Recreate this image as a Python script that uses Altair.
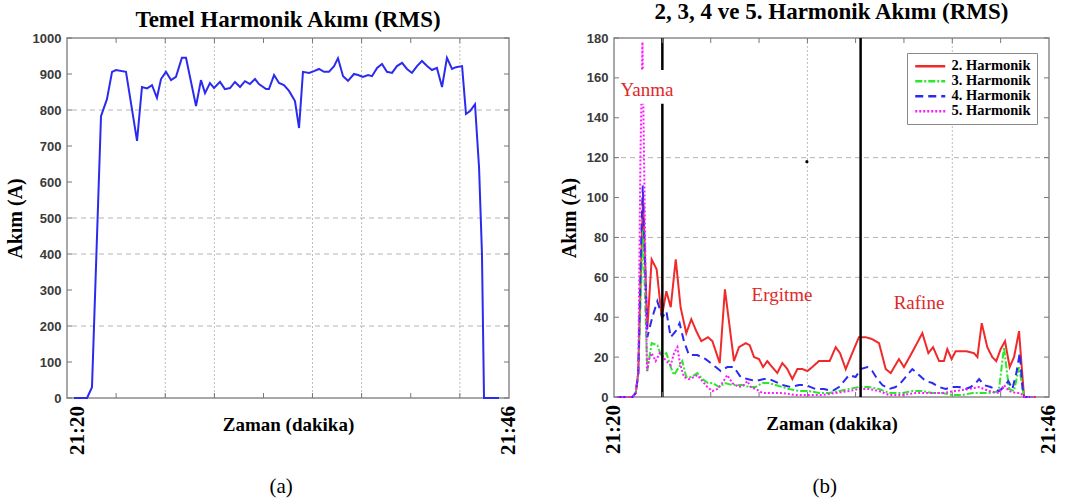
import altair as alt
import pandas as pd

# ---------------- data (minutes after 21:20, amperes) ----------------
fundamental = [(0.41, 0), (1.18, 0), (1.47, 30), (2.00, 783), (2.35, 830), (2.65, 906), (2.88, 911),
               (3.47, 906), (4.12, 714), (4.41, 864), (4.71, 860), (5.00, 869), (5.29, 834), (5.53, 886),
               (5.82, 906), (6.12, 883), (6.41, 892), (6.76, 945), (7.00, 945), (7.59, 811), (7.88, 883),
               (8.12, 847), (8.41, 875), (8.65, 861), (9.00, 878), (9.29, 858), (9.59, 861), (9.88, 878),
               (10.18, 864), (10.47, 880), (10.76, 872), (11.06, 886), (11.29, 872), (11.71, 858),
               (11.88, 858), (12.18, 897), (12.47, 875), (12.76, 869), (13.06, 853), (13.41, 825),
               (13.65, 750), (13.88, 906), (14.24, 903), (14.53, 908), (14.82, 914), (15.12, 906),
               (15.41, 906), (15.71, 922), (15.94, 944), (16.24, 894), (16.53, 881), (16.88, 900),
               (17.12, 897), (17.41, 892), (17.71, 897), (17.94, 894), (18.24, 917), (18.53, 928),
               (18.82, 906), (19.12, 903), (19.41, 922), (19.71, 931), (20.00, 914), (20.29, 903),
               (20.59, 922), (20.88, 936), (21.18, 922), (21.47, 911), (21.76, 917), (22.06, 864),
               (22.35, 945), (22.65, 914), (22.88, 919), (23.24, 922), (23.47, 789), (23.71, 797),
               (24.00, 816), (24.24, 639), (24.41, 400), (24.53, 0), (25.41, 0)]

harm2 = [(0.20, 0), (0.50, 0), (0.80, 0), (1.10, 0), (1.30, 2), (1.45, 12), (1.60, 60), (1.73, 100),
         (1.99, 34), (2.25, 69), (2.55, 64), (2.85, 40), (3.13, 53), (3.39, 45), (3.69, 69), (3.98, 45),
         (4.32, 32), (4.62, 39), (4.92, 33), (5.22, 28), (5.62, 30), (5.88, 28), (6.32, 17), (6.63, 54),
         (7.17, 18), (7.47, 25), (7.87, 27), (8.11, 26), (8.37, 20), (8.67, 19), (8.91, 15), (9.16, 18),
         (9.76, 12), (10.06, 17), (10.36, 14), (10.66, 9), (10.96, 14), (11.26, 14), (11.56, 13),
         (11.85, 15), (12.25, 18), (12.89, 18), (13.25, 25), (13.51, 22), (13.85, 14), (14.24, 22),
         (14.64, 30), (15.04, 30), (15.44, 29), (15.84, 27), (16.24, 14), (16.54, 12), (17.03, 19),
         (17.33, 15), (17.73, 21), (18.43, 32), (18.79, 22), (19.07, 25), (19.43, 18), (19.72, 18),
         (19.92, 24), (20.18, 19), (20.42, 23), (21.02, 23), (21.52, 22), (21.72, 20), (21.98, 37),
         (22.31, 25), (22.61, 20), (22.85, 18), (23.11, 24), (23.37, 28), (23.65, 15), (23.91, 20),
         (24.21, 33), (24.37, 15), (24.51, 0), (25.20, 0)]

harm3 = [(0.20, 0), (0.50, 0), (0.80, 0), (1.10, 0), (1.30, 2), (1.45, 12), (1.60, 50), (1.73, 84),
         (1.99, 13), (2.25, 27), (2.59, 26), (2.85, 20), (3.13, 22), (3.39, 15), (3.59, 11), (3.88, 15),
         (4.08, 18), (4.32, 10), (4.62, 10), (4.98, 12), (5.28, 9), (5.62, 7), (5.88, 7), (6.28, 5),
         (6.63, 7), (7.07, 6), (7.67, 6), (8.07, 5), (8.47, 5), (8.87, 7), (9.26, 7), (9.66, 6),
         (10.46, 4), (11.06, 3), (11.66, 3), (12.25, 2), (12.85, 2), (13.45, 3), (14.05, 4), (14.64, 5),
         (15.24, 5), (15.84, 4), (16.44, 2), (17.23, 2), (17.83, 3), (18.43, 3), (19.03, 2), (19.62, 2),
         (20.22, 1), (20.82, 1), (21.42, 2), (22.01, 2), (22.61, 2), (23.00, 3), (23.31, 25), (23.61, 4),
         (23.91, 3), (24.21, 15), (24.51, 0), (25.20, 0)]

harm4 = [(0.20, 0), (0.50, 0), (0.80, 0), (1.10, 0), (1.30, 2), (1.45, 12), (1.60, 70), (1.72, 106),
         (1.99, 30), (2.29, 40), (2.59, 48), (2.89, 40), (3.13, 43), (3.39, 30), (3.69, 33), (3.92, 37),
         (4.18, 28), (4.48, 21), (4.98, 21), (5.48, 19), (5.78, 17), (6.08, 15), (6.38, 13), (6.77, 15),
         (7.17, 15), (7.57, 10), (7.97, 9), (8.47, 8), (8.97, 9), (9.26, 9), (9.56, 8), (10.06, 6),
         (10.56, 5), (11.06, 6), (11.46, 6), (12.05, 4), (12.55, 4), (13.05, 3), (13.45, 5), (13.75, 8),
         (14.05, 11), (14.44, 10), (14.74, 14), (15.14, 15), (15.44, 13), (15.74, 9), (16.04, 6),
         (16.44, 4), (16.83, 5), (17.13, 7), (17.43, 10), (17.83, 14), (18.23, 11), (18.63, 8),
         (19.03, 7), (19.43, 5), (19.82, 4), (20.22, 5), (20.62, 5), (21.02, 4), (21.32, 5), (21.62, 7),
         (21.82, 9), (22.11, 6), (22.51, 5), (23.01, 3), (23.31, 5), (23.57, 8), (23.81, 4), (24.05, 12),
         (24.25, 22), (24.41, 5), (24.51, 0), (25.20, 0)]

harm5 = [(0.20, 0), (0.50, 0), (0.80, 0), (1.10, 0), (1.30, 2), (1.45, 12), (1.58, 120), (1.70, 178),
         (1.97, 13), (2.10, 19), (2.25, 22), (2.49, 18), (2.73, 22), (2.93, 20), (3.13, 18), (3.39, 16),
         (3.59, 22), (3.79, 25), (3.94, 17), (4.18, 10), (4.48, 9), (4.78, 10), (4.98, 11), (5.28, 8),
         (5.58, 5), (5.88, 3), (6.18, 4), (6.47, 7), (6.77, 11), (7.07, 7), (7.47, 5), (7.77, 6),
         (7.97, 8), (8.17, 5), (8.47, 4), (8.87, 2), (9.26, 2), (10.06, 2), (10.86, 1), (11.66, 1),
         (12.45, 1), (13.25, 2), (14.05, 3), (14.64, 4), (15.24, 4), (15.84, 3), (16.44, 1), (17.23, 1),
         (18.03, 2), (18.83, 2), (19.62, 2), (20.42, 3), (21.22, 4), (21.82, 5), (22.41, 3), (23.01, 2),
         (23.31, 6), (23.61, 3), (24.01, 2), (24.31, 2), (24.51, 0), (25.20, 0)]

series_names = ["2. Harmonik", "3. Harmonik", "4. Harmonik", "5. Harmonik"]
series_colors = ["#f02a2a", "#2ee62e", "#2a2af0", "#ff1aff"]
series_dashes = [[1, 0], [7, 2, 2, 2], [8, 5], [2, 2]]

phase_lines = [2.89, 14.74]                      # black phase boundaries (minutes)
phase_labels = ["Yanma", "Ergitme", "Rafine"]
phase_label_t = [1.97, 10.04, 18.23]
phase_label_a = [154, 51, 47]
yanma_box = {"t": 0.30, "t2": 3.65, "a": 147, "a2": 164}
stray_dot = [(11.53, 118)]

time_labels = ["21:20", "21:46"]
time_label_t = [0, 26]
x_ticks = [2.89, 5.78, 8.67, 11.56, 14.44, 17.33, 20.22, 23.11]
left_y_ticks = list(range(0, 1001, 100))
right_y_ticks = list(range(0, 181, 20))
left_hgrid = [200, 400, 500, 800]
left_vgrid = [5.78, 8.67, 14.44, 17.33, 23.11]
right_hgrid = [60, 80, 120]
right_vgrid = [11.56, 20.22]

SERIF = "Liberation Serif"
SANS = "Liberation Sans"
W1, H1 = 442, 360
W2, H2 = 435, 359
LEFT_ORIGIN = (68, 38)          # where the left plot area lands (for the shared legend)
RIGHT_TOP = 38
CAPTION_Y = 487


def yaxis(values):
    return alt.Axis(title="Akım (A)", values=values, format="d", labelOverlap=False,
                    grid=False, domain=False, ticks=False,
                    labelFont=SANS, labelFontWeight="bold", labelFontSize=13, labelColor="#3a3a3a",
                    labelPadding=6, titleFont=SERIF, titleFontWeight="bold", titleFontSize=20,
                    titleColor="black", titlePadding=7)


def xaxis():
    return alt.Axis(title="Zaman (dakika)", labels=False, ticks=False, domain=False, grid=False,
                    titleFont=SERIF, titleFontWeight="bold", titleFontSize=19, titleColor="black",
                    titleY=26, titleBaseline="middle")


def panel_encoders(xs, ys, yvals):
    xa, ya = xaxis(), yaxis(yvals)
    X = lambda f: alt.X(f, scale=xs, axis=xa)
    Y = lambda f: alt.Y(f, scale=ys, axis=ya)
    return X, Y


def decorations(X, Y, W, H, top, hgrid, vgrid, yticks, first_baseline, caption):
    hg = alt.Chart(pd.DataFrame({"a": hgrid})).mark_rule(
        color="#b4b4b4", strokeDash=[5, 4], strokeWidth=1).encode(y=Y("a:Q"))
    vg = alt.Chart(pd.DataFrame({"t": vgrid})).mark_rule(
        color="#bdbdbd", strokeDash=[2, 2], strokeWidth=1).encode(x=X("t:Q"))
    ydf = pd.DataFrame({"a": yticks})
    ytl = alt.Chart(ydf).mark_rule(color="#777", strokeWidth=1).encode(
        y=Y("a:Q"), x=alt.value(0), x2=alt.value(5))
    ytr = alt.Chart(ydf).mark_rule(color="#777", strokeWidth=1).encode(
        y=Y("a:Q"), x=alt.value(W - 5), x2=alt.value(W))
    xdf = pd.DataFrame({"t": x_ticks})
    xtb = alt.Chart(xdf).mark_rule(color="#777", strokeWidth=1).encode(
        x=X("t:Q"), y=alt.value(H - 5), y2=alt.value(H))
    xtt = alt.Chart(xdf).mark_rule(color="#777", strokeWidth=1).encode(
        x=X("t:Q"), y=alt.value(0), y2=alt.value(5))
    tl = pd.DataFrame({"t": time_label_t, "label": time_labels})
    lab0 = alt.Chart(tl.iloc[:1]).mark_text(
        font=SERIF, fontWeight="bold", fontSize=21, angle=270, align="right",
        baseline=first_baseline, color="black").encode(
        x=X("t:Q"), y=alt.value(H + 8), text="label:N")
    lab1 = alt.Chart(tl.iloc[1:]).mark_text(
        font=SERIF, fontWeight="bold", fontSize=21, angle=270, align="right",
        baseline="middle", color="black").encode(
        x=X("t:Q"), y=alt.value(H + 8), text="label:N")
    cap = alt.Chart(pd.DataFrame({"t": [12.6], "label": [caption]})).mark_text(
        font=SERIF, fontSize=21, color="black", baseline="middle").encode(
        x=X("t:Q"), y=alt.value(CAPTION_Y - top), text="label:N")
    return [hg, vg, ytl, ytr, xtb, xtt, lab0, lab1, cap]


# ---------------- left panel ----------------
xs1 = alt.Scale(domain=[0, 26], nice=False, zero=False)
ys1 = alt.Scale(domain=[0, 1000], nice=False)
X1, Y1 = panel_encoders(xs1, ys1, left_y_ticks)
fund_df = pd.DataFrame(fundamental, columns=["t", "a"])

fund_line = alt.Chart(fund_df).mark_line(color="#2b2bf0", strokeWidth=2).encode(
    x=X1("t:Q"), y=Y1("a:Q"))
dec1 = decorations(X1, Y1, W1, H1, LEFT_ORIGIN[1], left_hgrid, left_vgrid, left_y_ticks, "top", "(a)")
left = alt.layer(*dec1[:2], fund_line, *dec1[2:]).properties(
    width=W1, height=H1, title=alt.Title("Temel Harmonik Akımı (RMS)", offset=0))

# ---------------- right panel ----------------
xs2 = alt.Scale(domain=[0, 26], nice=False, zero=False)
ys2 = alt.Scale(domain=[0, 180], nice=False)
X2, Y2 = panel_encoders(xs2, ys2, right_y_ticks)
rows = []
for name, pts in zip(series_names, [harm2, harm3, harm4, harm5]):
    for t, a in pts:
        rows.append({"t": t, "a": a, "series": name})
harm_df = pd.DataFrame(rows)

legend_xy = dict(legendX=908 - LEFT_ORIGIN[0], legendY=53 - LEFT_ORIGIN[1])
harm_lines = alt.Chart(harm_df).mark_line(strokeWidth=2).encode(
    x=X2("t:Q"), y=Y2("a:Q"),
    color=alt.Color("series:N", scale=alt.Scale(domain=series_names, range=series_colors),
                    legend=alt.Legend(title=None, orient="none", **legend_xy,
                                      strokeColor="#8a8a8a", fillColor="white", padding=6,
                                      labelFont=SERIF, labelFontWeight="bold", labelFontSize=14.5,
                                      labelColor="black", symbolType="M-1,0H5", symbolSize=100,
                                      symbolStrokeWidth=2.5, rowPadding=0, labelOffset=24)),
    strokeDash=alt.StrokeDash("series:N", scale=alt.Scale(domain=series_names, range=series_dashes),
                              legend=alt.Legend(title=None, orient="none", **legend_xy)),
    detail="series:N",
)

phase_rules = alt.Chart(pd.DataFrame({"t": phase_lines})).mark_rule(
    color="black", strokeWidth=2.5).encode(x=X2("t:Q"))
box = alt.Chart(pd.DataFrame([yanma_box])).mark_rect(color="white").encode(
    x=X2("t:Q"), x2="t2:Q", y=Y2("a:Q"), y2="a2:Q")
plabels = alt.Chart(pd.DataFrame({"t": phase_label_t, "a": phase_label_a, "label": phase_labels})).mark_text(
    font=SERIF, fontSize=19, color="#e02828", baseline="middle").encode(
    x=X2("t:Q"), y=Y2("a:Q"), text="label:N")
dot = alt.Chart(pd.DataFrame(stray_dot, columns=["t", "a"])).mark_circle(
    color="black", size=10, opacity=1).encode(x=X2("t:Q"), y=Y2("a:Q"))

dec2 = decorations(X2, Y2, W2, H2, RIGHT_TOP, right_hgrid, right_vgrid, right_y_ticks, "middle", "(b)")
right = alt.layer(
    *dec2[:2], harm_lines, phase_rules, box, plabels, dot, *dec2[2:]
).properties(width=W2, height=H2,
             title=alt.Title("2, 3, 4 ve 5. Harmonik Akımı (RMS)", offset=8))

chart = alt.hconcat(left, right, spacing=38).properties(
    padding={"left": 4, "top": 0, "right": 4, "bottom": 2},
    background="white",
).configure_view(
    stroke="#8c8c8c", strokeWidth=1.5
).configure_title(
    font=SERIF, fontWeight="bold", fontSize=23, color="black", anchor="middle", frame="group"
)

chart.save("out.html", embed_options={"renderer": "svg", "actions": False})
